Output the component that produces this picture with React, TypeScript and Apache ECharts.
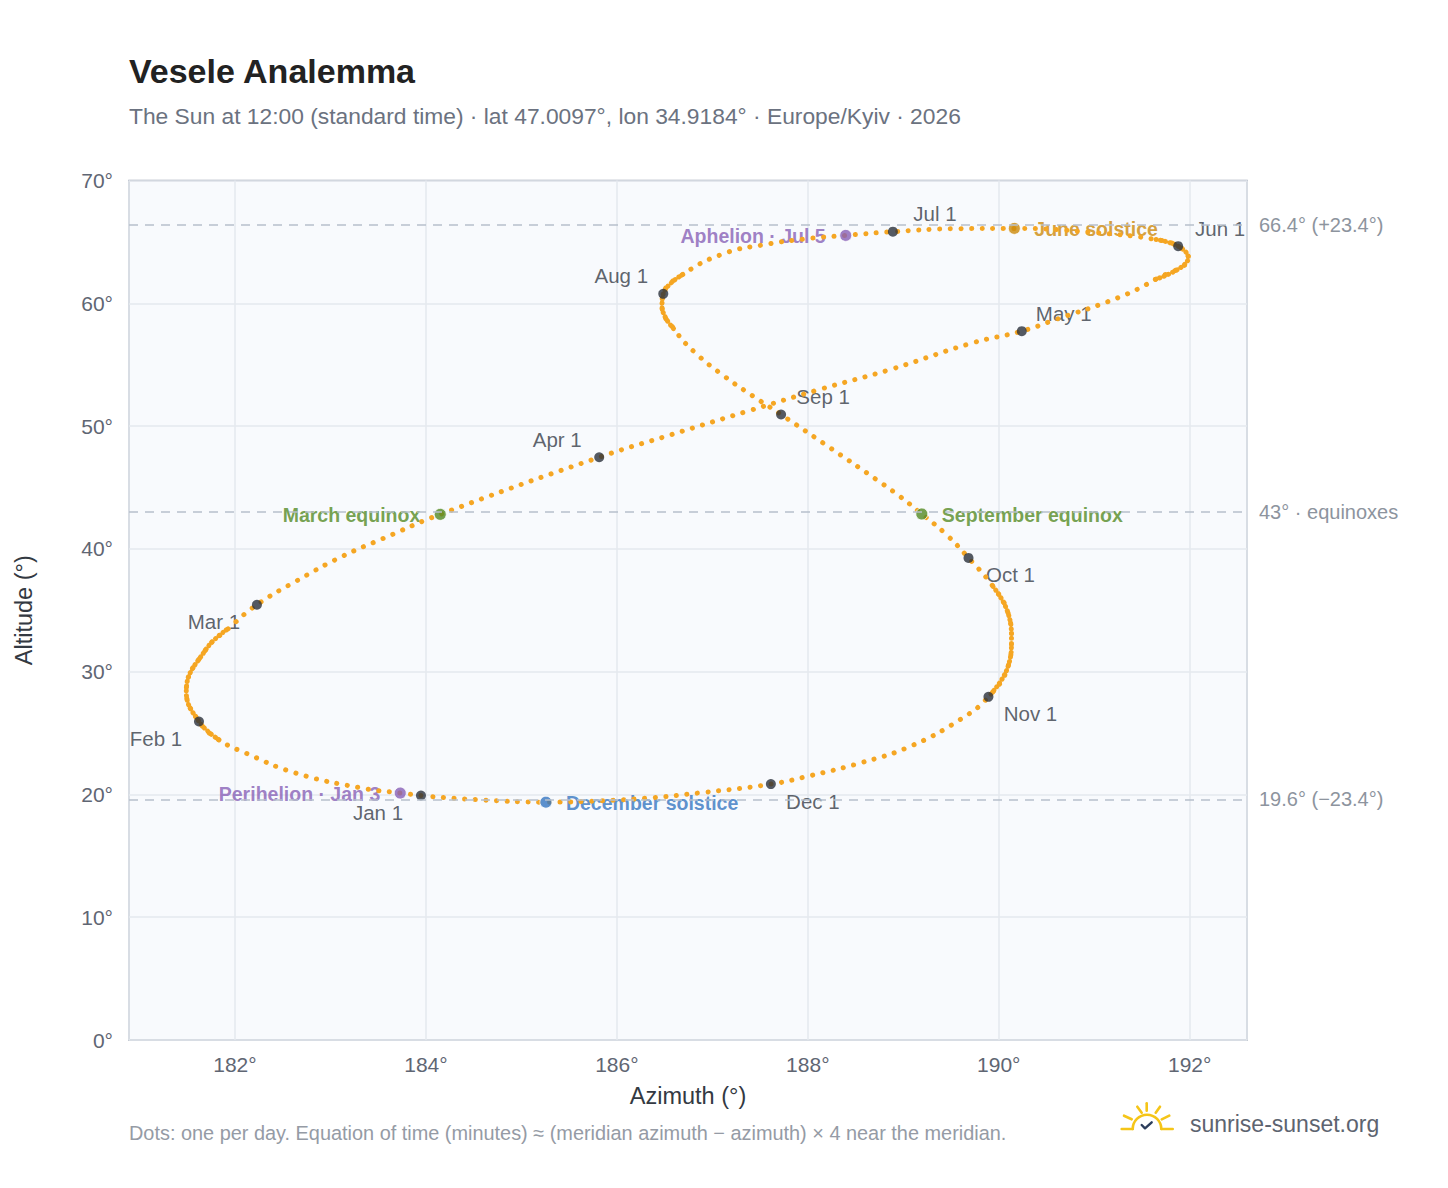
import React, { useEffect, useRef } from "react";
import * as echarts from "echarts";

// Analemma path (azimuth °, altitude °), Jan 1 → Dec 31
const curveAz = [
  183.948, 183.731, 183.333, 182.636, 182.112, 181.832, 181.623, 181.49, 181.693, 181.937,
  182.23, 182.636, 183.124, 183.547, 184.15, 185.815, 186.573, 187.348, 188.118, 188.861,
  189.728, 190.241, 190.597, 191.248, 191.64, 191.986, 191.879, 191.64, 191.031, 190.163,
  189.512, 188.891, 188.397, 187.993, 187.558, 187.125, 186.69, 186.486, 186.473, 186.603,
  186.821, 187.125, 187.428, 187.72, 188.23, 188.719, 188.963, 189.194, 189.452, 189.683,
  189.94, 190.097, 190.133, 190.097, 189.892, 189.592, 189.068, 188.545, 188.021, 187.613,
  186.869, 186.346, 185.822, 185.257, 184.565, 184.021,
];
const curveAlt = [
  19.91, 20.11, 20.51, 21.74, 23.37, 24.45, 25.94, 28.39, 31.78, 33.55,
  35.45, 37.35, 39.39, 40.83, 42.81, 47.46, 49.31, 51.16, 52.97, 54.6,
  56.78, 57.73, 58.68, 60.45, 61.94, 63.71, 64.65, 65.2, 65.74, 66.1,
  66.07, 65.83, 65.53, 65.26, 64.79, 64.06, 62.35, 60.77, 59.76, 57.86,
  55.97, 54.06, 52.43, 50.94, 48.25, 45.64, 44.28, 42.84, 41.16, 39.26,
  36.94, 34.78, 32.6, 30.42, 27.95, 26.08, 23.9, 22.55, 21.52, 20.84,
  20.13, 19.72, 19.48, 19.37, 19.56, 19.85,
];
// stretches of the path where the daily dots crowd together (index ranges into the path)
const slowStretches = [[5, 9], [24, 27], [36, 39], [50, 54]];

// First-of-month markers
const monthLabels = ["Jan 1", "Feb 1", "Mar 1", "Apr 1", "May 1", "Jun 1", "Jul 1", "Aug 1", "Sep 1", "Oct 1", "Nov 1", "Dec 1"];
const monthAz = [183.948, 181.623, 182.23, 185.815, 190.241, 191.879, 188.891, 186.486, 187.72, 189.683, 189.892, 187.613];
const monthAlt = [19.91, 25.94, 35.45, 47.46, 57.73, 64.65, 65.83, 60.77, 50.94, 39.26, 27.95, 20.84];
const monthPlacement = ["bl", "bl", "bl", "tl", "tr", "tr", "tr", "tl", "tr", "br", "br", "br"];

// Special days
const eventNames = ["Perihelion · Jan 3", "March equinox", "June solstice", "Aphelion · Jul 5", "September equinox", "December solstice"];
const eventAz = [183.731, 184.15, 190.163, 188.397, 189.194, 185.257];
const eventAlt = [20.11, 42.81, 66.1, 65.53, 42.84, 19.37];
const eventColors = ["#8760b6", "#538a24", "#cc890a", "#8760b6", "#538a24", "#3575c0"];
const eventSide = ["left", "left", "right", "left", "right", "right"];

// Reference altitudes
const refLevels = [66.4, 43, 19.6];
const refLabels = ["66.4° (+23.4°)", "43° · equinoxes", "19.6° (−23.4°)"];

const TITLE = "Vesele Analemma";
const SUBTITLE = "The Sun at 12:00 (standard time) · lat 47.0097°, lon 34.9184° · Europe/Kyiv · 2026";
const FOOTNOTE = "Dots: one per day. Equation of time (minutes) ≈ (meridian azimuth − azimuth) × 4 near the meridian.";
const BRAND = "sunrise-sunset.org";

const FONT = "'Liberation Sans', Arial, Helvetica, sans-serif";
const DOT = "#f5a623";

export default function App() {
  const ref = useRef<HTMLDivElement>(null);
  useEffect(() => {
    document.body.style.margin = "0";
    const chart = echarts.init(ref.current as HTMLDivElement, null, { renderer: "svg" });
    const curve = curveAz.map((a, i) => [a, curveAlt[i]]);
    const offsets: Record<string, number[]> = { bl: [-43, 17], tl: [-42, -18], tr: [42, -18], br: [42, 17] };

    const sunStroke = { stroke: "#f5c518", lineWidth: 2.6, lineCap: "round", fill: "none" };

    const denseSeries = slowStretches.map(([a, b]) => ({
      type: "line", data: curve.slice(a, b + 1), smooth: 0.45, showSymbol: false, z: 2, silent: true,
      lineStyle: { color: DOT, width: 5, type: [0.1, 4.6], cap: "round" },
    }));

    const option: any = {
      animation: false,
      backgroundColor: "#ffffff",
      textStyle: { fontFamily: FONT },
      title: [
        { text: TITLE, left: 129, top: 54, padding: 0, textStyle: { fontFamily: FONT, fontSize: 34, fontWeight: "bold", color: "#222222" } },
        { text: SUBTITLE, left: 129, top: 104, padding: 0, textStyle: { fontFamily: FONT, fontSize: 22.8, fontWeight: "normal", color: "#6b7280" } },
      ],
      grid: {
        left: 129, right: 201, top: 180.5, bottom: 148,
        show: true, backgroundColor: "#f8fafd", borderColor: "#9aa5b4", borderWidth: 1.5,
      },
      xAxis: {
        type: "value", min: 180.89, max: 192.6, splitNumber: 5, minInterval: 2, maxInterval: 2,
        name: "Azimuth (°)", nameLocation: "middle", nameGap: 44,
        nameTextStyle: { fontFamily: FONT, fontSize: 23.5, color: "#333942" },
        axisLine: { show: false }, axisTick: { show: false },
        axisLabel: { showMinLabel: false, showMaxLabel: false, formatter: (v: number) => `${v}°`, fontFamily: FONT, fontSize: 21, color: "#5f6673", margin: 14 },
        splitLine: { show: true, lineStyle: { color: "#e4e8ee", width: 1.5 } },
      },
      yAxis: {
        type: "value", min: 0, max: 70, interval: 10,
        name: "Altitude (°)", nameLocation: "middle", nameGap: 93,
        nameTextStyle: { fontFamily: FONT, fontSize: 23.5, color: "#333942" },
        axisLine: { show: false }, axisTick: { show: false },
        axisLabel: { formatter: (v: number) => `${v}°`, fontFamily: FONT, fontSize: 21, color: "#5f6673", margin: 16 },
        splitLine: { show: true, lineStyle: { color: "#e4e8ee", width: 1.5 } },
      },
      series: [
        {
          type: "line", data: [], z: 0, silent: true,
          markLine: {
            silent: true, symbol: "none", animation: false,
            lineStyle: { color: "#b7c0cb", width: 1.6, type: [9, 7] },
            label: { show: true, position: "end", distance: 12, color: "#8d949e", fontFamily: FONT, fontSize: 20 },
            data: refLevels.map((v, i) => ({ yAxis: v, label: { formatter: refLabels[i] } })),
          },
        },
        // month labels (drawn beneath the dots)
        {
          type: "scatter", z: 1, symbolSize: 1, silent: true,
          itemStyle: { color: "rgba(0,0,0,0)" },
          data: monthAz.map((a, i) => ({
            value: [a, monthAlt[i]],
            name: monthLabels[i],
            label: { offset: offsets[monthPlacement[i]] },
          })),
          label: { show: true, position: "inside", formatter: "{b}", color: "#363c47", fontFamily: FONT, fontSize: 20.5 },
        },
        // event labels (drawn beneath the dots)
        {
          type: "scatter", z: 1, symbolSize: 12, silent: true,
          itemStyle: { color: "rgba(0,0,0,0)" },
          data: eventAz.map((a, i) => ({
            value: [a, eventAlt[i]],
            name: eventNames[i],
            label: { position: eventSide[i], color: eventColors[i], offset: [0, 1] },
          })),
          label: {
            show: true, formatter: "{b}", distance: 14, fontFamily: FONT, fontSize: 19.5, fontWeight: "bold",
            textBorderWidth: 0,
          },
        },
        {
          type: "line", data: curve, smooth: 0.45, showSymbol: false, z: 2, silent: true,
          lineStyle: { color: DOT, width: 5, type: [0.1, 10.5], cap: "round" },
        },
        ...denseSeries,
        {
          type: "scatter", z: 3, symbolSize: 10, silent: true,
          itemStyle: { color: "#2b313b" },
          data: monthAz.map((a, i) => [a, monthAlt[i]]),
        },
        {
          type: "scatter", z: 4, symbolSize: 12, silent: true,
          data: eventAz.map((a, i) => ({ value: [a, eventAlt[i]], itemStyle: { color: eventColors[i] } })),
          itemStyle: { borderColor: "#ffffff", borderWidth: 1 },
        },
      ],
      graphic: [
        { type: "text", left: 129, top: 1123, style: { text: FOOTNOTE, fontFamily: FONT, fontSize: 19.9, fill: "#959ba5" } },
        { type: "line", shape: { x1: 1146.7, y1: 1103.3, x2: 1146.7, y2: 1110.7 }, style: sunStroke },
        { type: "line", shape: { x1: 1137.3, y1: 1106.7, x2: 1141.7, y2: 1112.7 }, style: sunStroke },
        { type: "line", shape: { x1: 1160, y1: 1106.7, x2: 1155.7, y2: 1112.7 }, style: sunStroke },
        { type: "line", shape: { x1: 1124, y1: 1115.7, x2: 1131.7, y2: 1119.3 }, style: sunStroke },
        { type: "line", shape: { x1: 1169.3, y1: 1115.7, x2: 1161.7, y2: 1119.3 }, style: sunStroke },
        { type: "line", shape: { x1: 1121.7, y1: 1129, x2: 1132.7, y2: 1129 }, style: sunStroke },
        { type: "line", shape: { x1: 1161.7, y1: 1129, x2: 1172.7, y2: 1129 }, style: sunStroke },
        { type: "arc", shape: { cx: 1147, cy: 1129, r: 14.3, startAngle: Math.PI, endAngle: 2 * Math.PI, clockwise: true }, style: sunStroke },
        { type: "polyline", shape: { points: [[1141.7, 1125], [1145, 1128.3], [1151.7, 1122.3]] }, style: { stroke: "#2c3e5c", lineWidth: 2.4, lineCap: "round", lineJoin: "round", fill: "none" } },
        { type: "text", left: 1190, top: 1112, style: { text: BRAND, fontFamily: FONT, fontSize: 23, fill: "#5d6470" } },
      ],
    };
    chart.setOption(option);
    return () => chart.dispose();
  }, []);
  return <div ref={ref} style={{ width: 1448, height: 1188 }} />;
}
